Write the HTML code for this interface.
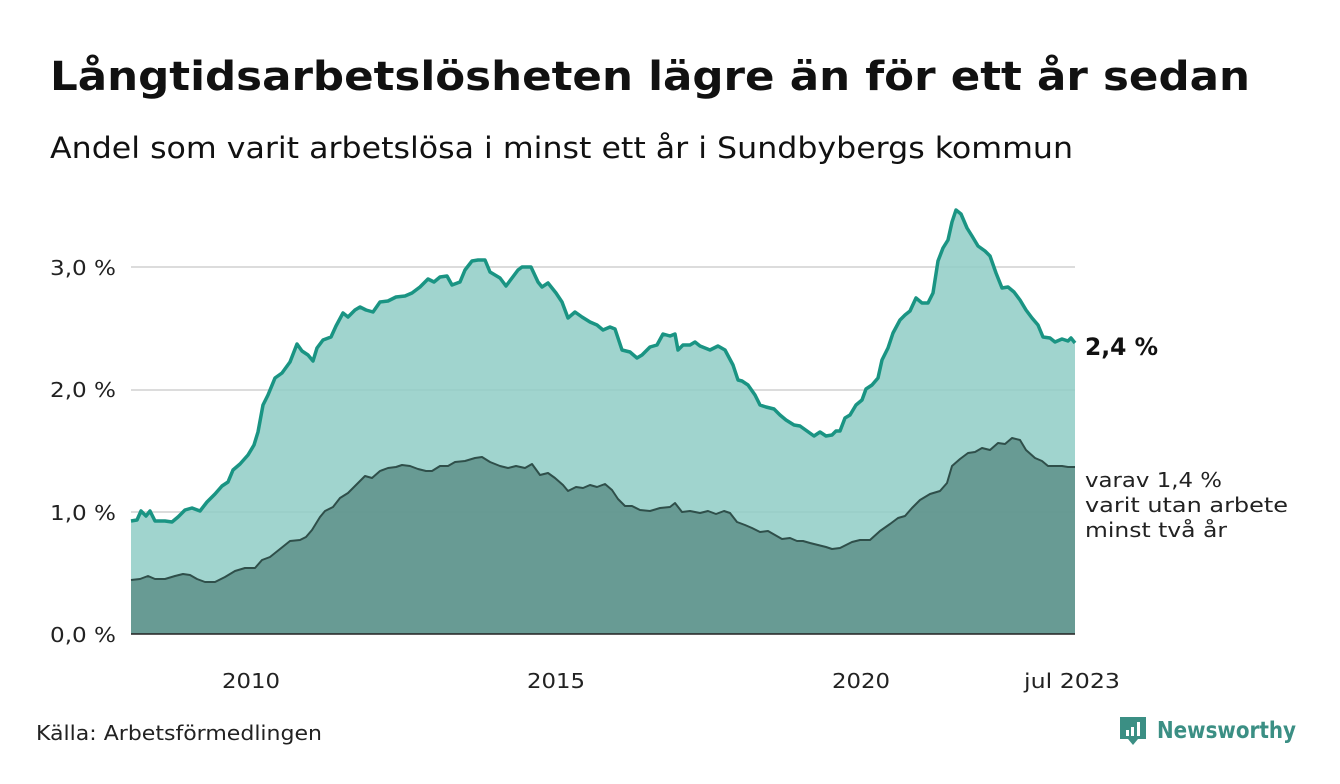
<!DOCTYPE html>
<html><head><meta charset="utf-8"><style>
body{margin:0;background:#fff;font-family:"DejaVu Sans","Liberation Sans",sans-serif;}
</style></head><body>
<svg width="1340" height="780" viewBox="0 0 1340 780" xmlns="http://www.w3.org/2000/svg" font-family="DejaVu Sans, Liberation Sans, sans-serif">
<text x="50" y="90" font-size="40" font-weight="bold" fill="#111" textLength="1200" lengthAdjust="spacingAndGlyphs">Långtidsarbetslösheten lägre än för ett år sedan</text>
<text x="50" y="158" font-size="29" fill="#111" textLength="1023" lengthAdjust="spacingAndGlyphs">Andel som varit arbetslösa i minst ett år i Sundbybergs kommun</text>
<g stroke="#dcdcdc" stroke-width="2">
<line x1="131" y1="267" x2="1075" y2="267"/><line x1="131" y1="390" x2="1075" y2="390"/><line x1="131" y1="512" x2="1075" y2="512"/>
</g>
<polygon fill="#8fcdc6" fill-opacity="0.85" points="131,634 131,521 137,520 141,511 146,516 150,511 155,521 165,521 172,522 178,517 185,510 192,508 200,511 207,502 215,494 222,486 228,482 233,470 240,464 248,455 254,445 258,432 263,405 268,395 275,378 282,373 290,362 297,344 302,351 308,355 313,361 317,348 323,340 331,337 336,326 343,313 348,317 355,310 360,307 366,310 373,312 380,302 388,301 396,297 405,296 412,293 420,287 428,279 434,282 440,277 447,276 452,285 460,282 465,270 472,261 478,260 485,260 490,272 500,278 506,286 512,278 518,270 522,267 531,267 538,282 542,287 548,283 556,293 562,302 568,318 575,312 582,317 590,322 597,325 603,330 610,327 615,329 622,350 630,352 637,358 642,355 650,347 657,345 663,334 670,336 675,334 678,350 683,345 690,345 695,342 700,346 710,350 718,346 725,350 733,365 738,380 742,381 748,385 755,395 760,405 766,407 774,409 780,415 786,420 794,425 800,426 807,431 814,436 820,432 826,436 832,435 836,431 840,431 845,418 850,415 856,405 862,400 866,389 872,385 878,378 882,360 888,348 893,333 900,320 905,315 910,311 916,298 922,303 928,303 933,293 938,261 943,248 948,240 952,222 956,210 961,214 967,228 972,236 978,246 985,251 990,256 996,273 1002,288 1008,287 1014,292 1020,300 1026,310 1032,318 1038,325 1043,337 1050,338 1055,342 1062,339 1068,341 1071,338 1075,343 1075,634"/>
<polyline fill="none" stroke="#1a9483" stroke-width="3.5" stroke-linejoin="round" points="131,521 137,520 141,511 146,516 150,511 155,521 165,521 172,522 178,517 185,510 192,508 200,511 207,502 215,494 222,486 228,482 233,470 240,464 248,455 254,445 258,432 263,405 268,395 275,378 282,373 290,362 297,344 302,351 308,355 313,361 317,348 323,340 331,337 336,326 343,313 348,317 355,310 360,307 366,310 373,312 380,302 388,301 396,297 405,296 412,293 420,287 428,279 434,282 440,277 447,276 452,285 460,282 465,270 472,261 478,260 485,260 490,272 500,278 506,286 512,278 518,270 522,267 531,267 538,282 542,287 548,283 556,293 562,302 568,318 575,312 582,317 590,322 597,325 603,330 610,327 615,329 622,350 630,352 637,358 642,355 650,347 657,345 663,334 670,336 675,334 678,350 683,345 690,345 695,342 700,346 710,350 718,346 725,350 733,365 738,380 742,381 748,385 755,395 760,405 766,407 774,409 780,415 786,420 794,425 800,426 807,431 814,436 820,432 826,436 832,435 836,431 840,431 845,418 850,415 856,405 862,400 866,389 872,385 878,378 882,360 888,348 893,333 900,320 905,315 910,311 916,298 922,303 928,303 933,293 938,261 943,248 948,240 952,222 956,210 961,214 967,228 972,236 978,246 985,251 990,256 996,273 1002,288 1008,287 1014,292 1020,300 1026,310 1032,318 1038,325 1043,337 1050,338 1055,342 1062,339 1068,341 1071,338 1075,343"/>
<polygon fill="#5e918a" fill-opacity="0.85" points="131,634 131,580 140,579 148,576 155,579 165,579 175,576 183,574 190,575 197,579 205,582 215,582 225,577 235,571 245,568 255,568 262,560 270,557 280,549 290,541 300,540 306,537 312,530 320,517 325,511 333,507 340,498 348,493 355,486 365,476 372,478 380,471 388,468 396,467 402,465 410,466 418,469 426,471 432,471 440,466 448,466 455,462 465,461 475,458 482,457 490,462 500,466 508,468 516,466 525,468 532,464 540,475 548,473 555,478 563,485 568,491 576,487 583,488 590,485 597,487 605,484 612,490 618,499 625,506 632,506 640,510 650,511 660,508 670,507 675,503 682,512 690,511 700,513 708,511 716,514 724,511 730,513 737,522 745,525 752,528 760,532 768,531 775,535 782,539 790,538 797,541 803,541 810,543 818,545 826,547 832,549 840,548 846,545 852,542 860,540 870,540 880,531 890,524 898,518 905,516 912,508 920,500 930,494 940,491 947,483 952,466 960,459 968,453 975,452 982,448 990,450 998,443 1005,444 1012,438 1020,440 1026,450 1035,458 1042,461 1048,466 1055,466 1062,466 1068,467 1075,467 1075,634"/>
<polyline fill="none" stroke="#2f4f4a" stroke-width="2" stroke-linejoin="round" points="131,580 140,579 148,576 155,579 165,579 175,576 183,574 190,575 197,579 205,582 215,582 225,577 235,571 245,568 255,568 262,560 270,557 280,549 290,541 300,540 306,537 312,530 320,517 325,511 333,507 340,498 348,493 355,486 365,476 372,478 380,471 388,468 396,467 402,465 410,466 418,469 426,471 432,471 440,466 448,466 455,462 465,461 475,458 482,457 490,462 500,466 508,468 516,466 525,468 532,464 540,475 548,473 555,478 563,485 568,491 576,487 583,488 590,485 597,487 605,484 612,490 618,499 625,506 632,506 640,510 650,511 660,508 670,507 675,503 682,512 690,511 700,513 708,511 716,514 724,511 730,513 737,522 745,525 752,528 760,532 768,531 775,535 782,539 790,538 797,541 803,541 810,543 818,545 826,547 832,549 840,548 846,545 852,542 860,540 870,540 880,531 890,524 898,518 905,516 912,508 920,500 930,494 940,491 947,483 952,466 960,459 968,453 975,452 982,448 990,450 998,443 1005,444 1012,438 1020,440 1026,450 1035,458 1042,461 1048,466 1055,466 1062,466 1068,467 1075,467"/>
<line x1="131" y1="634" x2="1075" y2="634" stroke="#222" stroke-width="1.5"/>
<g font-size="20" fill="#222" text-anchor="end">
<text x="116" y="642" textLength="66" lengthAdjust="spacingAndGlyphs">0,0 %</text><text x="116" y="520" textLength="66" lengthAdjust="spacingAndGlyphs">1,0 %</text><text x="116" y="397" textLength="66" lengthAdjust="spacingAndGlyphs">2,0 %</text><text x="116" y="275" textLength="66" lengthAdjust="spacingAndGlyphs">3,0 %</text>
</g>
<g font-size="20" fill="#222" text-anchor="middle">
<text x="251" y="688" textLength="58" lengthAdjust="spacingAndGlyphs">2010</text><text x="556" y="688" textLength="58" lengthAdjust="spacingAndGlyphs">2015</text><text x="861" y="688" textLength="58" lengthAdjust="spacingAndGlyphs">2020</text><text x="1072" y="688" textLength="96" lengthAdjust="spacingAndGlyphs">jul 2023</text>
</g>
<text x="1085" y="355" font-size="24" font-weight="bold" fill="#111" textLength="73" lengthAdjust="spacingAndGlyphs">2,4 %</text>
<g font-size="20" fill="#222"><text x="1085" y="487" textLength="137" lengthAdjust="spacingAndGlyphs">varav 1,4 %</text><text x="1085" y="512" textLength="203" lengthAdjust="spacingAndGlyphs">varit utan arbete</text><text x="1085" y="537" textLength="142" lengthAdjust="spacingAndGlyphs">minst två år</text></g>
<text x="36" y="740" font-size="20" fill="#222" textLength="286" lengthAdjust="spacingAndGlyphs">Källa: Arbetsförmedlingen</text>
<g>
<path d="M1120 717 h26 v22 h-8 l-5 6 l-5 -6 h-8 z" fill="#3b8f84"/>
<rect x="1126" y="730" width="3" height="6" fill="#fff"/><rect x="1131" y="727" width="3" height="9" fill="#fff"/><rect x="1137" y="722" width="3" height="14" fill="#fff"/>
<text x="1157" y="738" font-size="23" font-weight="bold" fill="#3b8f84" textLength="139" lengthAdjust="spacingAndGlyphs">Newsworthy</text>
</g>
</svg>
</body></html>
